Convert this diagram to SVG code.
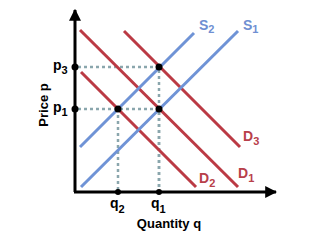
<svg xmlns="http://www.w3.org/2000/svg" width="320" height="240" viewBox="0 0 320 240">
<defs>
<style>
.ax{stroke:#000;stroke-width:3;fill:none}
.dot{stroke:#8aa6ad;stroke-width:2.5;stroke-dasharray:3 3;fill:none}
.s{stroke:#6f93d6;stroke-width:3;fill:none}
.d{stroke:#bb3a44;stroke-width:3;fill:none}
.pt{fill:#000}
text{font-family:"Liberation Sans",Arial,sans-serif;font-weight:bold}
.lab{font-size:14px;fill:#000}
.axl{font-size:13px;fill:#000}
.sl{font-size:14px;fill:#6f8fd2}
.dl{font-size:14px;fill:#b8404a}
.sub{font-size:11px}
</style>
<marker id="ah" viewBox="0 0 10 10" refX="9" refY="5" markerWidth="4" markerHeight="4" orient="auto" markerUnits="strokeWidth">
<path d="M0,0 L10,5 L0,10 Z" fill="#000"/>
</marker>
</defs>
<rect width="320" height="240" fill="#fff"/>
<g id="guides">
<path class="dot" d="M78,67 H159 V192"/>
<path class="dot" d="M78,109 H159 V192"/>
<path class="dot" d="M118,109 V192"/>
</g>
<g id="connectors">
<path class="d" d="M80,30 L238,187"/>
<path class="d" d="M81,72 L196,187"/>
<path class="d" d="M124,31 L240,147"/>
<path class="s" d="M80,147 L194,33"/>
<path class="s" d="M81,187 L238,31"/>
</g>
<g id="axes">
<path class="ax" d="M75,192 V10" marker-end="url(#ah)"/>
<path class="ax" d="M74,192 H276" marker-end="url(#ah)"/>
</g>
<g id="points">
<circle class="pt" cx="75" cy="67" r="3.5"/>
<circle class="pt" cx="75" cy="109" r="3.5"/>
<circle class="pt" cx="118" cy="109" r="3.5"/>
<circle class="pt" cx="159" cy="67" r="3.5"/>
<circle class="pt" cx="159" cy="109" r="3.5"/>
<circle class="pt" cx="118" cy="192" r="3"/>
<circle class="pt" cx="159" cy="192" r="3"/>
</g>
<g id="S1"><text class="sl" x="243" y="30">S<tspan class="sub" dy="3">1</tspan></text></g>
<g id="S2"><text class="sl" x="199" y="30">S<tspan class="sub" dy="3">2</tspan></text></g>
<g id="D1"><text class="dl" x="238" y="178">D<tspan class="sub" dy="4">1</tspan></text></g>
<g id="D2"><text class="dl" x="199" y="183">D<tspan class="sub" dy="4">2</tspan></text></g>
<g id="D3"><text class="dl" x="243" y="141">D<tspan class="sub" dy="4">3</tspan></text></g>
<g id="p3"><text class="lab" x="53" y="70">p<tspan class="sub" dy="4">3</tspan></text></g>
<g id="p1"><text class="lab" x="53" y="112">p<tspan class="sub" dy="4">1</tspan></text></g>
<g id="q2"><text class="lab" x="110" y="208">q<tspan class="sub" dy="5">2</tspan></text></g>
<g id="q1"><text class="lab" x="151" y="208">q<tspan class="sub" dy="5">1</tspan></text></g>
<g id="ylabel"><text class="axl" text-anchor="middle" transform="translate(48,105) rotate(-90)">Price p</text></g>
<g id="xlabel"><text class="axl" text-anchor="middle" x="169" y="228">Quantity q</text></g>
</svg>
